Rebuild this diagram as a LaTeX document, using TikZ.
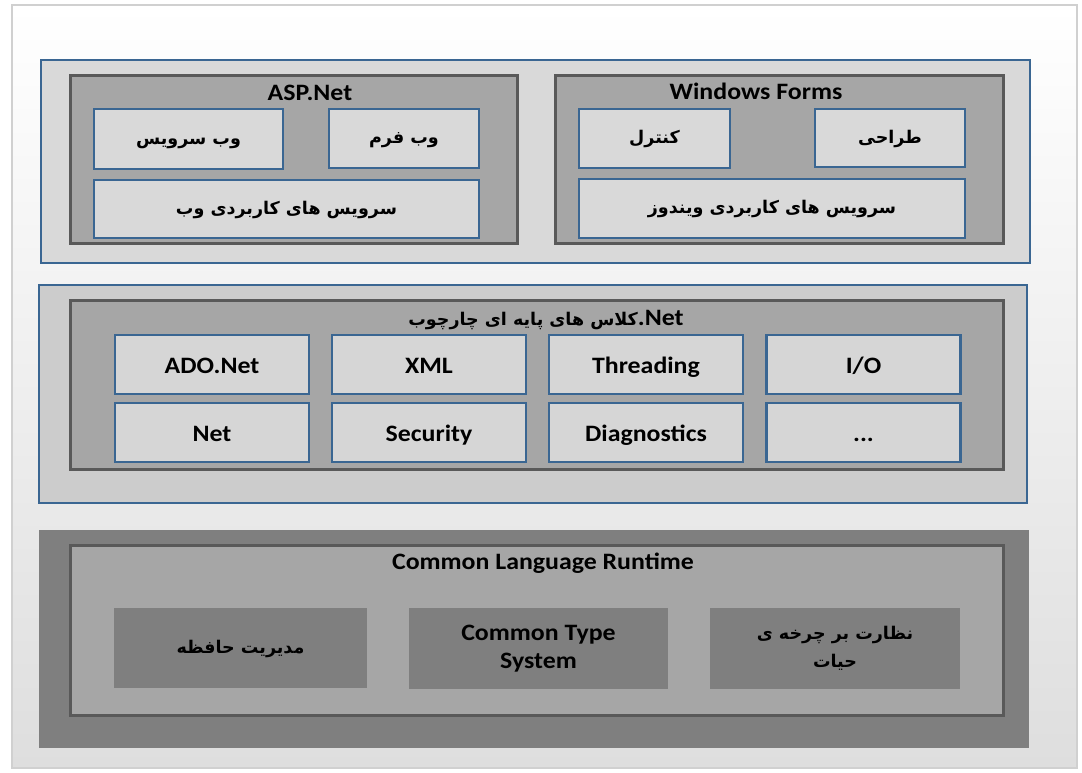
\documentclass[tikz,border=0pt]{standalone}
\usepackage{fontspec}
\setmainfont{Carlito}
\newfontfamily\lat[FakeStretch=1.1]{Carlito}
\newfontfamily\fa[Script=Arabic]{DejaVu Sans}
\TeXXeTstate=1
\definecolor{bluebd}{RGB}{58,102,146}
\definecolor{lightfill}{RGB}{217,217,217}
\definecolor{midfill}{RGB}{204,204,204}
\definecolor{leaffill}{RGB}{214,214,214}
\definecolor{grpfill}{RGB}{166,166,166}
\definecolor{grpbd}{RGB}{89,89,89}
\definecolor{darkfill}{RGB}{127,127,127}
\definecolor{framebd}{RGB}{208,208,208}
\definecolor{bgbottom}{RGB}{222,222,222}
\newcommand{\latf}{\lat\bfseries\fontsize{23.5}{28}\selectfont}
\newcommand{\faf}{\fa\bfseries\fontsize{17.5}{28}\selectfont}
\begin{document}
\begin{tikzpicture}[x=1pt,y=-1pt,
  panel/.style={draw=bluebd, line width=2.6pt, inner sep=0pt},
  grp/.style={draw=grpbd, fill=grpfill, line width=3pt, inner sep=0pt},
  leaf/.style={draw=bluebd, line width=2.6pt, fill=lightfill, inner sep=0pt, align=center},
  mleaf/.style={leaf, fill=leaffill, minimum width=194pt, minimum height=59pt},
  dleaf/.style={fill=darkfill, inner sep=0pt, align=center},
  fatxt/.style={font=\faf, text height=14pt, text depth=4pt},
  latxt/.style={font=\latf, text height=18pt, text depth=0pt},
  ttl/.style={inner sep=0pt, text=black}]
\useasboundingbox (0,0) rectangle (1082,772);
% background frame
\shade[top color=white, bottom color=bgbottom] (12,5) rectangle (1077,768);
\draw[framebd, line width=2pt] (12,5) rectangle (1077,768);

% top panel
\node[panel, fill=lightfill, minimum width=989pt, minimum height=203pt] (top) at (535.5,161.5) {};
\node[grp, minimum width=447pt, minimum height=168pt] (asp) at (293.5,159) {};
\node[ttl, font=\latf] (aspt) at (310,93) {ASP.Net};
\node[leaf, fatxt, minimum width=189pt, minimum height=60pt] (wsvc) at (188.5,139) {\beginR وب سرویس\endR};
\node[leaf, fatxt, minimum width=150pt, minimum height=59pt] (wform) at (404,138.5) {\beginR وب فرم\endR};
\node[leaf, fatxt, minimum width=385pt, minimum height=58pt] (wapp) at (286.5,209) {\beginR سرویس های کاربردی وب\endR};

\node[grp, minimum width=448pt, minimum height=168pt] (winf) at (779,159) {};
\node[ttl, font=\latf] (winft) at (756,91) {Windows Forms};
\node[leaf, fatxt, minimum width=151pt, minimum height=59pt] (ctrl) at (654.5,138.5) {\beginR کنترل\endR};
\node[leaf, fatxt, minimum width=150pt, minimum height=58pt] (dsgn) at (890,138) {\beginR طراحی\endR};
\node[leaf, fatxt, minimum width=386pt, minimum height=59pt] (wnapp) at (772,208.5) {\beginR سرویس های کاربردی ویندوز\endR};

% middle panel
\node[panel, fill=midfill, minimum width=988pt, minimum height=218pt] (mid) at (533,394) {};
\node[grp, minimum width=933pt, minimum height=169pt] (bcl) at (536.5,384.5) {};
\node[ttl] (bclt) at (546,320) {{\faf\beginR کلاس های پایه ای چارچوب\endR}{\latf .Net}};
\node[mleaf, latxt] (ado) at (212,364.5) {ADO.Net};
\node[mleaf, latxt] (xml) at (429,364.5) {XML};
\node[mleaf, latxt] (thr) at (646,364.5) {Threading};
\node[mleaf, latxt] (io) at (863.5,364.5) {I/O};
\node[mleaf, latxt] (net) at (212,432.5) {Net};
\node[mleaf, latxt] (sec) at (429,432.5) {Security};
\node[mleaf, latxt] (diag) at (646,432.5) {Diagnostics};
\node[mleaf, latxt] (etc) at (863.5,432.5) {...};

% bottom panel
\node[fill=darkfill, inner sep=0pt, minimum width=990pt, minimum height=218pt] (bot) at (534,639) {};
\node[grp, minimum width=933pt, minimum height=170pt] (clr) at (536.5,630) {};
\node[ttl, font=\latf] (clrt) at (543,563) {Common Language Runtime};
\node[dleaf, fatxt, minimum width=253pt, minimum height=80pt] (mem) at (240.5,648) {\beginR مدیریت حافظه\endR};
\node[dleaf, font=\latf, minimum width=259pt, minimum height=81pt] (cts) at (538.5,648.5) {\rule{0pt}{8pt}Common Type\\System};
\node[dleaf, font=\faf, minimum width=250pt, minimum height=81pt] (life) at (835,648.5) {\beginR نظارت بر چرخه ی\endR\\\beginR حیات\endR};
\end{tikzpicture}
\end{document}
